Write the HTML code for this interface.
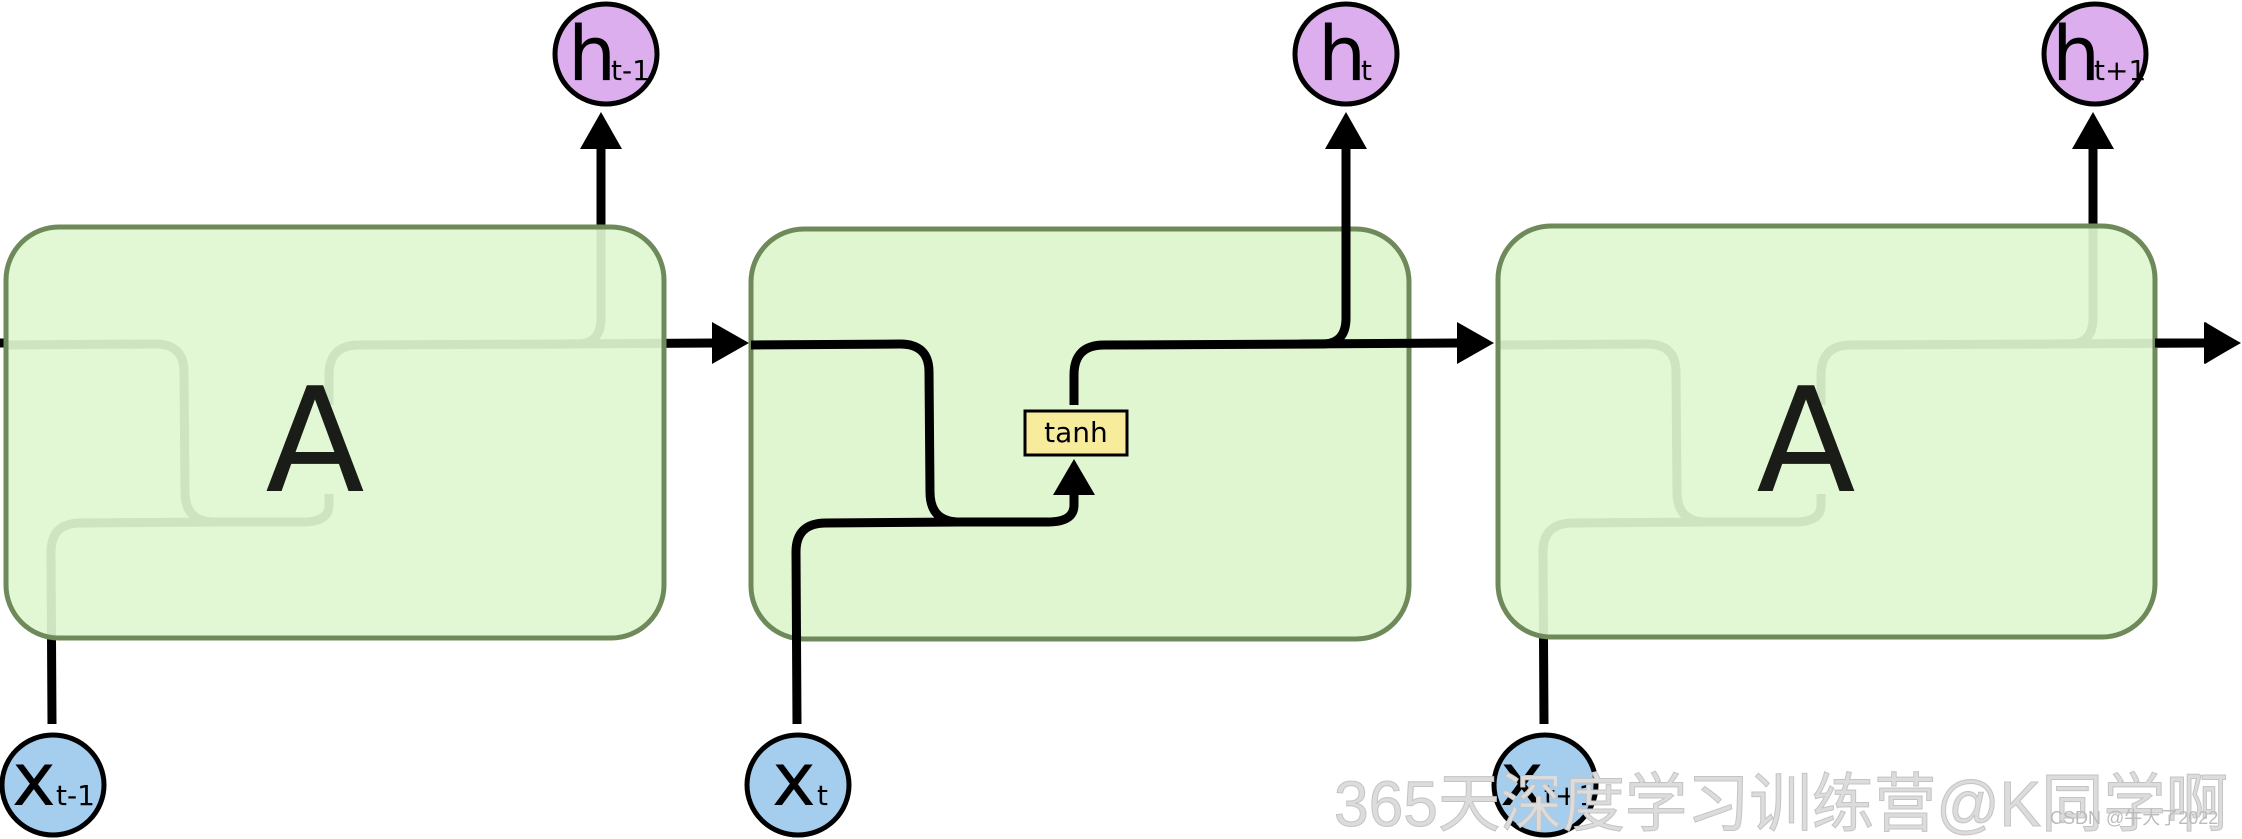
<!DOCTYPE html>
<html><head><meta charset="utf-8"><style>
html,body{margin:0;padding:0;background:#fff;}
svg{display:block;}
text{font-family:"DejaVu Sans","Liberation Sans",sans-serif;}
</style></head><body>
<svg width="2242" height="839" viewBox="0 0 2242 839" xmlns="http://www.w3.org/2000/svg">
<defs>
<g id="lines" fill="none" stroke="#000" stroke-width="9" stroke-linejoin="round">
  <path d="M 751 345 L 900 344 Q 929 344 929 372 L 930 492 Q 930 522 960 522 L 1048 522 Q 1074 522 1074 505 L 1074 494"/>
  <path d="M 797 724 L 796 552 Q 796 523 826 523 L 960 522"/>
  <path d="M 1074 405 L 1074 375 Q 1074 345 1104 345 L 1322 344 Q 1346 344 1346 318 L 1346 146"/>
  <path d="M 1300 344 L 1460 343"/>
</g>
<g id="tanhhead">
  <polygon points="1053,495 1095,495 1074,459" fill="#000"/>
</g>
<g id="heads">
  <polygon points="1325,149 1367,149 1346,112" fill="#000"/>
  <polygon points="1457,322 1457,364 1494,343" fill="#000"/>
</g>
</defs>

<line x1="0" y1="343" x2="6" y2="343" stroke="#000" stroke-width="9"/>

<!-- Box 1 -->
<g transform="translate(-745,0)">
  <use href="#lines"/><use href="#heads"/>
</g>
<rect x="6" y="227" width="658" height="411" rx="53" ry="53" fill="#e0f6d0" fill-opacity="0.92" stroke="#6f8a5a" stroke-width="5"/>
<text x="315" y="491" font-size="145" text-anchor="middle" fill="#1a1c17">A</text>

<!-- Box 2 -->
<rect x="751" y="229" width="658" height="410" rx="53" ry="53" fill="#e0f6d0" stroke="#6f8a5a" stroke-width="5"/>
<use href="#lines"/><use href="#heads"/><use href="#tanhhead"/>
<rect x="1025" y="411" width="102" height="44" fill="#f7ec9c" stroke="#000" stroke-width="3"/>
<text x="1076" y="442" font-size="28" text-anchor="middle" fill="#000">tanh</text>

<!-- Box 3 -->
<g transform="translate(747,0)">
  <use href="#lines"/><use href="#heads"/>
</g>
<rect x="1498" y="226" width="657" height="411" rx="53" ry="53" fill="#e0f6d0" fill-opacity="0.92" stroke="#6f8a5a" stroke-width="5"/>
<text x="1806" y="491" font-size="145" text-anchor="middle" fill="#1a1c17">A</text>
<line x1="2155" y1="343" x2="2208" y2="343" stroke="#000" stroke-width="9"/>
<polygon points="2205,322 2205,364 2240,343" fill="#000"/>

<!-- h circles -->
<g stroke="#000" stroke-width="5" fill="#dcaeed">
  <ellipse cx="606" cy="54" rx="51" ry="50"/>
  <ellipse cx="1346" cy="54" rx="51" ry="50"/>
  <ellipse cx="2095" cy="54" rx="51" ry="50"/>
</g>
<text x="568" y="80" font-size="76" fill="#000">h</text><text x="611" y="80" font-size="28" fill="#000">t-1</text>
<text x="1318" y="80" font-size="76" fill="#000">h</text><text x="1361" y="80" font-size="28" fill="#000">t</text>
<text x="2052" y="80" font-size="76" fill="#000">h</text><text x="2094" y="80" font-size="28" fill="#000">t+1</text>

<!-- x circles -->
<g stroke="#000" stroke-width="5" fill="#a5cdee">
  <ellipse cx="53" cy="785" rx="51" ry="50"/>
  <ellipse cx="798" cy="785" rx="51" ry="50"/>
  <ellipse cx="1545" cy="785" rx="51" ry="50"/>
</g>
<text x="12" y="805" font-size="74" fill="#000">x</text><text x="56" y="805" font-size="28" fill="#000">t-1</text>
<text x="772" y="805" font-size="74" fill="#000">x</text><text x="817" y="805" font-size="28" fill="#000">t</text>
<text x="1500" y="805" font-size="74" fill="#000">x</text><text x="1544" y="805" font-size="28" fill="#000">t+1</text>

<!-- watermark -->
<text x="1334" y="826" font-size="64" textLength="894" lengthAdjust="spacingAndGlyphs" fill="#dcdcdc" stroke="#c4c4c4" stroke-width="1" style='font-family:"Liberation Sans","Noto Sans CJK SC",sans-serif'>365天深度学习训练营@K同学啊</text>
<text x="2050" y="824" font-size="18" fill="#bbbbbb" style='font-family:"Liberation Sans","Noto Sans CJK SC",sans-serif'>CSDN @牛大了2022</text>
</svg>
</body></html>
